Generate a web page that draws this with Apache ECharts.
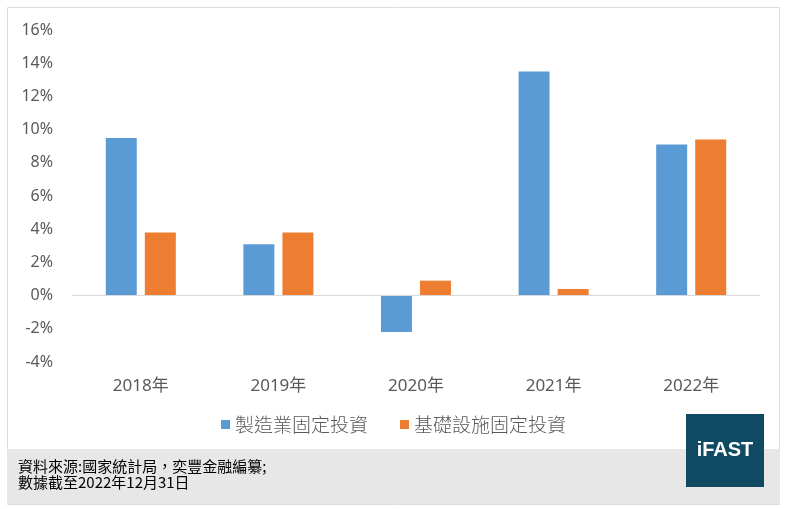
<!DOCTYPE html>
<html>
<head>
<meta charset="utf-8">
<script src="https://cdn.jsdelivr.net/npm/echarts@6/dist/echarts.min.js"></script>
<style>
    html, body {margin: 0; padding: 0; background: #fff;}
    #chart {width: 787px; height: 509px;}
</style>
</head>
<body>
<div id="chart"></div>
<script>
var years = ['2018年', '2019年', '2020年', '2021年', '2022年'];
var manufacturing = [9.5, 3.1, -2.2, 13.5, 9.1];
var infrastructure = [3.8, 3.8, 0.9, 0.4, 9.4];
var seriesNames = ['製造業固定投資', '基礎設施固定投資'];
var sourceLines = ['資料來源:國家統計局，奕豐金融編纂;', '數據截至2022年12月31日'];

var fontLatin = '"Noto Sans", "Noto Sans CJK TC", sans-serif';
var labelColor = '#595959';

var myChart = echarts.init(document.getElementById('chart'));

var option = {
    animation: false,
    backgroundColor: '#fff',
    color: ['#5b9bd5', '#ed7d31'],
    grid: {left: 72, right: 27, top: 30, bottom: 147},
    legend: {
        data: seriesNames,
        left: 'center',
        top: 410,
        icon: 'rect',
        itemWidth: 9,
        itemHeight: 9,
        itemGap: 32,
        selectedMode: false,
        textStyle: {
            color: labelColor,
            fontSize: 19,
            fontFamily: '"Noto Sans CJK TC", sans-serif',
            fontWeight: 300
        }
    },
    xAxis: {
        type: 'category',
        data: years,
        axisLine: {show: false, onZero: false},
        axisTick: {show: false},
        axisLabel: {
            color: labelColor,
            fontSize: 17,
            margin: 16,
            fontFamily: fontLatin
        }
    },
    yAxis: {
        type: 'value',
        min: -4,
        max: 16,
        interval: 2,
        splitLine: {show: false},
        axisLine: {show: false},
        axisTick: {show: false},
        axisLabel: {
            color: labelColor,
            fontSize: 16,
            margin: 19,
            fontFamily: fontLatin,
            formatter: '{value}%'
        }
    },
    series: [
        {
            name: seriesNames[0],
            type: 'bar',
            data: manufacturing,
            barWidth: 31,
            barGap: '26%',
            // zero line across the plot
            markLine: {
                silent: true,
                symbol: 'none',
                label: {show: false},
                lineStyle: {color: '#d9d9d9', width: 1, type: 'solid'},
                data: [{yAxis: 0}]
            }
        },
        {
            name: seriesNames[1],
            type: 'bar',
            data: infrastructure,
            barWidth: 31
        }
    ],
    graphic: [
        {
            type: 'rect',
            z: -10,
            shape: {x: 7.5, y: 7.5, width: 772, height: 497},
            style: {fill: 'none', stroke: '#dcdcdc', lineWidth: 1}
        },
        {
            type: 'rect',
            z: -5,
            shape: {x: 7, y: 449, width: 773, height: 55},
            style: {fill: '#e7e7e7'}
        },
        {
            type: 'text',
            left: 18,
            top: 458,
            style: {
                text: sourceLines.join('\n'),
                fill: '#000',
                font: '15px "Noto Sans CJK TC", sans-serif',
                lineHeight: 16
            }
        },
        {
            type: 'rect',
            shape: {x: 686, y: 414, width: 78, height: 73},
            style: {fill: '#104a62'}
        },
        {
            type: 'text',
            x: 725,
            y: 450,
            style: {
                text: 'iFAST',
                fill: '#fff',
                font: 'bold 20px "Liberation Sans", Arial, sans-serif',
                align: 'center',
                verticalAlign: 'middle'
            }
        }
    ]
};

myChart.setOption(option);
</script>
</body>
</html>
